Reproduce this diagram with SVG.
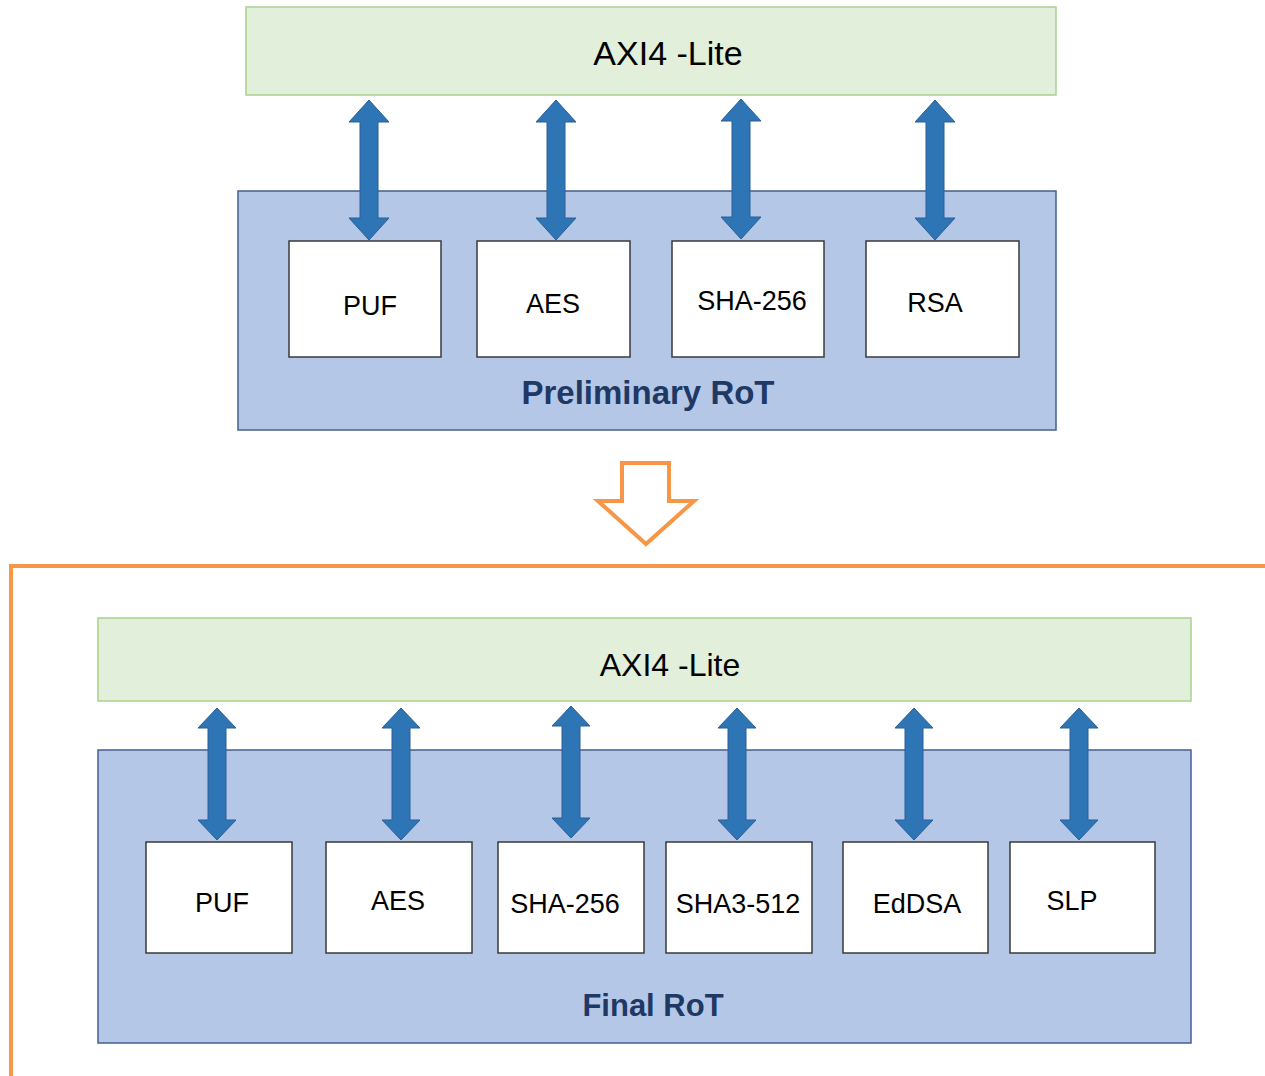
<svg xmlns="http://www.w3.org/2000/svg" xmlns:xlink="http://www.w3.org/1999/xlink" width="1265" height="1076" viewBox="0 0 1265 1076">
<style>
.bus{fill:#e2efda;stroke:#a9d18e;stroke-width:1.5}
.rot{fill:#b4c7e7;stroke:#44608f;stroke-width:1.5}
.blk{fill:#ffffff;stroke:#3a3a3a;stroke-width:1.5}
.lbl{font-family:"Liberation Sans",Arial,sans-serif;font-size:27px;fill:#000;text-anchor:middle}
.bustxt{font-family:"Liberation Sans",Arial,sans-serif;font-size:32px;fill:#000;text-anchor:middle}
.title{font-family:"Liberation Sans",Arial,sans-serif;font-size:31px;font-weight:bold;fill:#203864;text-anchor:middle}
.arr{fill:#2e75b6;stroke:#2a5f96;stroke-width:1}
.orange{fill:none;stroke:#f79646;stroke-width:4}
</style>
<defs>
<path id="dblA" d="M0,0 L20,22 L9,22 L9,118 L20,118 L0,140 L-20,118 L-9,118 L-9,22 L-20,22 Z"/>
<path id="dblB" d="M0,0 L19,20 L9,20 L9,112 L19,112 L0,132 L-19,112 L-9,112 L-9,20 L-19,20 Z"/>
</defs>

<g id="prelim">
  <g id="bus1"><rect class="bus" x="246" y="7" width="810" height="88"/><text class="bustxt" x="668" y="65" style="font-size:34px">AXI4 -Lite</text></g>
  <g id="rot1"><rect class="rot" x="238" y="191" width="818" height="239"/><text class="title" x="648" y="404" style="font-size:33px">Preliminary RoT</text></g>
  <g id="p-puf"><rect class="blk" x="289" y="241" width="152" height="116"/><text class="lbl" x="370" y="315">PUF</text></g>
  <g id="p-aes"><rect class="blk" x="477" y="241" width="153" height="116"/><text class="lbl" x="553" y="313">AES</text></g>
  <g id="p-sha"><rect class="blk" x="672" y="241" width="152" height="116"/><text class="lbl" x="752" y="310">SHA-256</text></g>
  <g id="p-rsa"><rect class="blk" x="866" y="241" width="153" height="116"/><text class="lbl" x="935" y="312">RSA</text></g>
</g>

<g id="transition">
  <polygon class="orange" points="622,463 669,463 669,501 694,501 646,544 598,501 622,501"/>
  <polyline class="orange" points="11,1076 11,566 1265,566"/>
</g>

<g id="final">
  <g id="bus2"><rect class="bus" x="98" y="618" width="1093" height="83"/><text class="bustxt" x="670" y="676">AXI4 -Lite</text></g>
  <g id="rot2"><rect class="rot" x="98" y="750" width="1093" height="293"/><text class="title" x="653" y="1016">Final RoT</text></g>
  <g id="f-puf"><rect class="blk" x="146" y="842" width="146" height="111"/><text class="lbl" x="222" y="912">PUF</text></g>
  <g id="f-aes"><rect class="blk" x="326" y="842" width="146" height="111"/><text class="lbl" x="398" y="910">AES</text></g>
  <g id="f-sha256"><rect class="blk" x="498" y="842" width="146" height="111"/><text class="lbl" x="565" y="913">SHA-256</text></g>
  <g id="f-sha3"><rect class="blk" x="666" y="842" width="146" height="111"/><text class="lbl" x="738" y="913">SHA3-512</text></g>
  <g id="f-eddsa"><rect class="blk" x="843" y="842" width="145" height="111"/><text class="lbl" x="917" y="913">EdDSA</text></g>
  <g id="f-slp"><rect class="blk" x="1010" y="842" width="145" height="111"/><text class="lbl" x="1072" y="910">SLP</text></g>
</g>

<g id="connectors">
  <use href="#dblA" class="arr" transform="translate(369,100)"/>
  <use href="#dblA" class="arr" transform="translate(556,100)"/>
  <use href="#dblA" class="arr" transform="translate(741,99)"/>
  <use href="#dblA" class="arr" transform="translate(935,100)"/>
  <use href="#dblB" class="arr" transform="translate(217,708)"/>
  <use href="#dblB" class="arr" transform="translate(401,708)"/>
  <use href="#dblB" class="arr" transform="translate(571,706)"/>
  <use href="#dblB" class="arr" transform="translate(737,708)"/>
  <use href="#dblB" class="arr" transform="translate(914,708)"/>
  <use href="#dblB" class="arr" transform="translate(1079,708)"/>
</g>
</svg>
